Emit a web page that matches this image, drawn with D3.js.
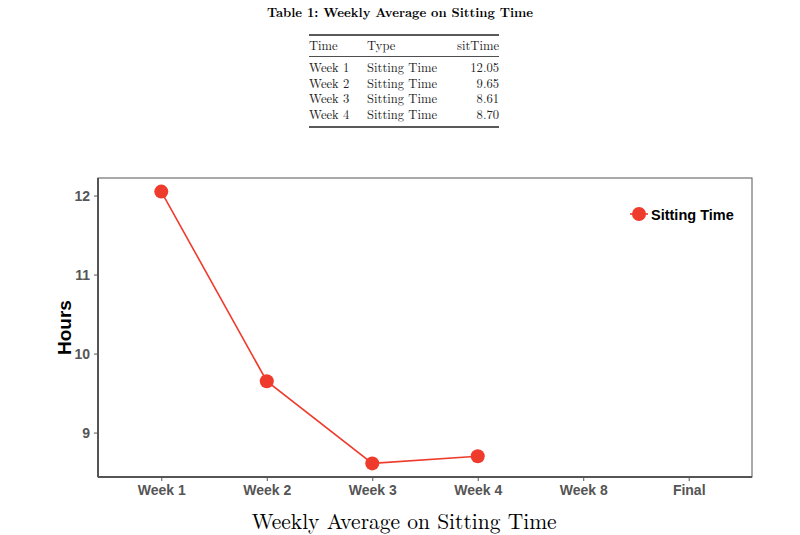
<!DOCTYPE html>
<html lang="en">
<head>
    <meta charset="UTF-8">
    <title>Weekly Average on Sitting Time</title>
    <script src="https://d3js.org/d3.v7.min.js"></script>
    <style>
        body { margin: 0; background: #fff; }
    </style>
</head>
<body>
    <svg id="chart" width="800" height="535"></svg>

    <script>
    // data
    const categories = ['Week 1', 'Week 2', 'Week 3', 'Week 4', 'Week 8', 'Final']
    const weeks = ['Week 1', 'Week 2', 'Week 3', 'Week 4']
    const sitTime = [12.05, 9.65, 8.61, 8.70]
    const seriesName = 'Sitting Time'
    const yTicks = [9, 10, 11, 12]
    const tableHeader = ['Time', 'Type', 'sitTime']

    const red = '#ef3b2c'
    const svg = d3.select('#chart')

    // ---- table at the top
    const serif = '"Latin Modern Roman", "CMU Serif", "Liberation Serif", "DejaVu Serif", serif'
    svg.append('text')
        .attr('x', 400).attr('y', 17)
        .attr('text-anchor', 'middle')
        .style('font-family', serif)
        .style('font-weight', 'bold')
        .style('font-size', '12.8px')
        .text('Table 1: Weekly Average on Sitting Time')

    const tx0 = 309, tx1 = 367, tx2 = 499
    const rule = (yy, w) => svg.append('line')
        .attr('x1', tx0).attr('x2', tx2).attr('y1', yy).attr('y2', yy)
        .attr('stroke', '#222').attr('stroke-width', w)
    rule(35, 1.3)
    rule(56.5, 0.8)
    rule(127, 1.3)

    const cell = (cx, cy, t, anchor) => svg.append('text')
        .attr('x', cx).attr('y', cy)
        .attr('text-anchor', anchor)
        .style('font-family', serif)
        .style('font-size', '12.6px')
        .attr('fill', '#222')
        .text(t)

    cell(tx0, 50, tableHeader[0], 'start')
    cell(tx1, 50, tableHeader[1], 'start')
    cell(tx2, 50, tableHeader[2], 'end')
    weeks.forEach((w, i) => {
        const ry = 72 + i * 15.7
        cell(tx0, ry, w, 'start')
        cell(tx1, ry, seriesName, 'start')
        cell(tx2, ry, sitTime[i].toFixed(2), 'end')
    })

    // ---- plot
    const mLeft = 98, mRight = 752, mTop = 178, mBottom = 477

    const x = d3.scalePoint()
        .domain(categories)
        .range([mLeft, mRight])
        .padding(0.6)

    const yMin = d3.min(sitTime), yMax = d3.max(sitTime)
    const pad = (yMax - yMin) * 0.05
    const y = d3.scaleLinear()
        .domain([yMin - pad, yMax + pad])
        .range([mBottom, mTop])

    // panel border
    svg.append('rect')
        .attr('x', mLeft).attr('y', mTop)
        .attr('width', mRight - mLeft).attr('height', mBottom - mTop)
        .attr('fill', 'none')
        .attr('stroke', '#555').attr('stroke-width', 1)

    const sans = '"Liberation Sans", Arial, Helvetica, sans-serif'

    // axes
    const yAxis = svg.append('g')
        .attr('transform', `translate(${mLeft},0)`)
        .call(d3.axisLeft(y).tickValues(yTicks).tickFormat(d3.format('d')).tickSize(4).tickPadding(4))
    const xAxis = svg.append('g')
        .attr('transform', `translate(0,${mBottom})`)
        .call(d3.axisBottom(x).tickSize(4).tickPadding(4).tickSizeOuter(0))

    ;[xAxis, yAxis].forEach(g => {
        g.select('.domain').attr('stroke', '#555').attr('stroke-width', 2)
        g.selectAll('.tick line').attr('stroke', '#555').attr('stroke-width', 1)
        g.selectAll('.tick text')
            .attr('fill', '#555')
            .style('font-family', sans)
            .style('font-weight', 'bold')
            .style('font-size', '14px')
    })
    yAxis.select('.domain').attr('d', `M0,${mTop}V${mBottom}`)
    xAxis.select('.domain').attr('d', `M${mLeft},0H${mRight}`)

    // axis titles
    svg.append('text')
        .attr('transform', `translate(71,${(mTop + mBottom) / 2}) rotate(-90)`)
        .attr('text-anchor', 'middle')
        .style('font-family', sans)
        .style('font-weight', 'bold')
        .style('font-size', '19px')
        .text('Hours')

    svg.append('text')
        .attr('x', (mLeft + mRight) / 2 - 21).attr('y', 529)
        .attr('text-anchor', 'middle')
        .style('font-family', serif)
        .style('font-size', '21.5px')
        .text('Weekly Average on Sitting Time')

    // line + points
    const pts = weeks.map((w, i) => ({ x: w, y: sitTime[i] }))
    const line = d3.line()
        .x(d => x(d.x))
        .y(d => y(d.y))

    svg.append('path')
        .attr('d', line(pts))
        .attr('fill', 'none')
        .attr('stroke', red)
        .attr('stroke-width', 1.6)

    svg.selectAll('circle.pt')
        .data(pts)
        .join('circle')
        .attr('class', 'pt')
        .attr('cx', d => x(d.x))
        .attr('cy', d => y(d.y))
        .attr('r', 7)
        .attr('fill', red)

    // legend
    const lg = svg.append('g').attr('transform', 'translate(639,214)')
    lg.append('line')
        .attr('x1', -9).attr('x2', 9)
        .attr('stroke', red).attr('stroke-width', 1.6)
    lg.append('circle').attr('r', 7).attr('fill', red)
    lg.append('text')
        .attr('x', 12).attr('y', 5.5)
        .style('font-family', sans)
        .style('font-weight', 'bold')
        .style('font-size', '14.5px')
        .text(seriesName)
    </script>
</body>
</html>
